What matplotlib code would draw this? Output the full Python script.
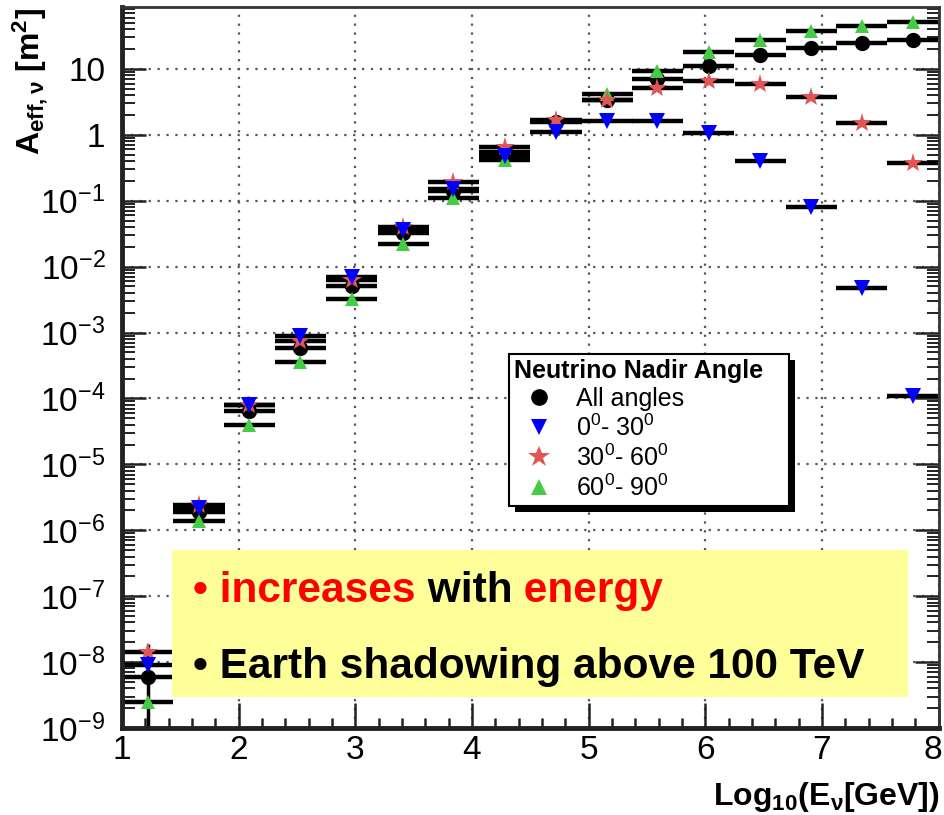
import matplotlib
matplotlib.use('Agg')
import matplotlib.pyplot as plt
import matplotlib.transforms as mtransforms
from matplotlib.ticker import FixedLocator, LogLocator, MultipleLocator, NullFormatter
from matplotlib.patches import Rectangle

plt.rcParams['font.family'] = ['Liberation Sans', 'DejaVu Sans']
plt.rcParams['mathtext.default'] = 'regular'

# 16 energy bins in log10(E/GeV) between 1 and 8
log_e = [1.22, 1.66, 2.09, 2.53, 2.97, 3.41, 3.84, 4.28,
         4.72, 5.16, 5.59, 6.03, 6.47, 6.91, 7.34, 7.78]
bin_half = 0.219

# effective area [m^2] per nadir angle band
a_all = [6e-9, 1.9e-6, 6.5e-5, 5.8e-4, 5.0e-3, 0.032, 0.14, 0.55,
         1.55, 3.4, 7.0, 11, 16, 21, 25, 27]
a_0_30 = [9e-9, 2.2e-6, 8e-5, 9e-4, 7e-3, 0.036, 0.15, 0.47,
          1.1, 1.6, 1.6, 1.05, 0.40, 0.081, 4.8e-3, 1.1e-4]
a_30_60 = [1.4e-8, 2.4e-6, 8e-5, 7.5e-4, 6.2e-3, 0.040, 0.19, 0.66,
           1.7, 3.4, 5.2, 6.5, 6.0, 3.8, 1.5, 0.38]
a_60_90 = [2.5e-9, 1.4e-6, 4e-5, 3.6e-4, 3.2e-3, 0.022, 0.11, 0.42,
           1.6, 4.2, 9.3, 18, 27, 38, 45, 52]

# vertical errors on the all-angle curve (only the lowest bin is visible)
all_err_lo = [5.9e-9, 0, 0, 0, 0, 0, 0, 0, 0, 0, 0, 0, 0, 0, 0, 0]
all_err_hi = [1.3e-8, 0, 0, 0, 0, 0, 0, 0, 0, 0, 0, 0, 0, 0, 0, 0]

legend_labels = ['All angles', '0$^0$- 30$^0$', '30$^0$- 60$^0$', '60$^0$- 90$^0$']
decades = [1e-9, 1e-8, 1e-7, 1e-6, 1e-5, 1e-4, 1e-3, 1e-2, 1e-1, 1, 10]
decade_labels = ['10$^{-9}$', '10$^{-8}$', '10$^{-7}$', '10$^{-6}$', '10$^{-5}$',
                 '10$^{-4}$', '10$^{-3}$', '10$^{-2}$', '10$^{-1}$', '1', '10']

W, H = 944, 815
fig = plt.figure(figsize=(W / 100, H / 100), dpi=100)
ax = fig.add_axes([122 / W, 1 - 728 / H, 816.6 / W, 721 / H])

# horizontal bin widths, drawn first so the markers sit on top
for vals in (a_all, a_60_90, a_30_60, a_0_30):
    ax.errorbar(log_e, vals, xerr=bin_half, fmt='none', ecolor='black',
                elinewidth=3.2, capsize=0, zorder=2)
ax.errorbar(log_e, a_all, yerr=[all_err_lo, all_err_hi], fmt='none',
            ecolor='black', elinewidth=2.5, capsize=0, zorder=2)

h_all, = ax.plot(log_e, a_all, 'o', color='black', markersize=10, zorder=3,
                 linestyle='none')
h_90, = ax.plot(log_e, a_60_90, '^', color='#44cc44', markersize=10.5, zorder=4,
                linestyle='none', markeredgewidth=0)
h_60, = ax.plot(log_e, a_30_60, '*', color='#e05555', markersize=15, zorder=5,
                linestyle='none', markeredgewidth=0)
h_30, = ax.plot(log_e, a_0_30, 'v', color='#0000ff', markersize=11, zorder=6,
                linestyle='none', markeredgewidth=0)

ax.set_xlim(1, 8)
ax.set_yscale('log')
ax.set_ylim(1e-9, 87)

ax.xaxis.set_major_locator(FixedLocator([1, 2, 3, 4, 5, 6, 7, 8]))
ax.xaxis.set_minor_locator(MultipleLocator(0.2))
ax.yaxis.set_major_locator(FixedLocator(decades))
ax.set_yticklabels(decade_labels)
ax.yaxis.set_minor_locator(LogLocator(base=10, subs=range(2, 10), numticks=100))
ax.yaxis.set_minor_formatter(NullFormatter())

ax.tick_params(axis='both', which='both', direction='in', right=True, top=False,
               color='#222222')
ax.tick_params(axis='y', which='major', length=17, width=1.8, pad=12, labelsize=24)
ax.tick_params(axis='y', which='minor', length=9, width=1.4)
ax.tick_params(axis='x', which='major', length=18, width=1.8, pad=5, labelsize=24)
ax.tick_params(axis='x', which='minor', length=7, width=1.8)

# keep the last x label inside the canvas
last = ax.get_xticklabels()[-1]
last.set_transform(last.get_transform() +
                   mtransforms.ScaledTranslation(-6 / 100, 0, fig.dpi_scale_trans))

ax.grid(True, which='major', linestyle=(0, (1, 3)), color='#555555', linewidth=1.6)

for side in ('left', 'bottom'):
    ax.spines[side].set_linewidth(3.5)
    ax.spines[side].set_color('#222222')
for side in ('top', 'right'):
    ax.spines[side].set_linewidth(2)
    ax.spines[side].set_color('#333333')

fig.text(30 / W, 1 - 8 / H, 'A$_{eff,ν}$ [m$^2$]', rotation=90, va='top', ha='center',
         fontsize=23, fontweight='bold')
fig.text(940 / W, 1 - 805 / H, 'Log$_{10}$(E$_{ν}$[GeV])', ha='right', va='baseline',
         fontsize=23, fontweight='bold')

leg = ax.legend([h_all, h_30, h_60, h_90], legend_labels,
                title='Neutrino Nadir Angle   ', loc='upper left',
                bbox_to_anchor=(509 / W, 1 - 354 / H), bbox_transform=fig.transFigure,
                borderaxespad=0, fontsize=18,
                title_fontproperties={'weight': 'bold', 'size': 18},
                alignment='left', fancybox=False, edgecolor='black', framealpha=1,
                handlelength=2.0, handletextpad=0.5, labelspacing=0.15, borderpad=0.2,
                markerscale=1.1)
leg.get_frame().set_linewidth(1.5)
leg.set_zorder(8)

# drop shadow below the legend box
fig.canvas.draw()
bb = leg.get_frame().get_window_extent()
shadow = Rectangle(((bb.x0 + 6) / W, (bb.y0 - 6) / H), bb.width / W, bb.height / H,
                   transform=fig.transFigure, facecolor='black', edgecolor='none',
                   zorder=7, clip_on=False)
ax.add_patch(shadow)

# highlighted note box
note = Rectangle((172 / W, 1 - 697 / H), (908 - 172) / W, (697 - 550) / H,
                 transform=fig.transFigure, facecolor='#ffff99', edgecolor='none',
                 zorder=10, clip_on=False)
ax.add_patch(note)

style = dict(fontsize=30.5, fontweight='bold', va='bottom', zorder=11)
t = ax.text(193 / W, 1 - 611 / H, '• increases', color='red',
            transform=fig.transFigure, **style)
t = ax.annotate(' with', xy=(1, 0), xycoords=t, color='black', **style)
t = ax.annotate(' energy', xy=(1, 0), xycoords=t, color='red', **style)
ax.text(193 / W, 1 - 687 / H, '• Earth shadowing above 100 TeV', color='black',
        transform=fig.transFigure, **style)

fig.savefig('out.png', dpi=100)
